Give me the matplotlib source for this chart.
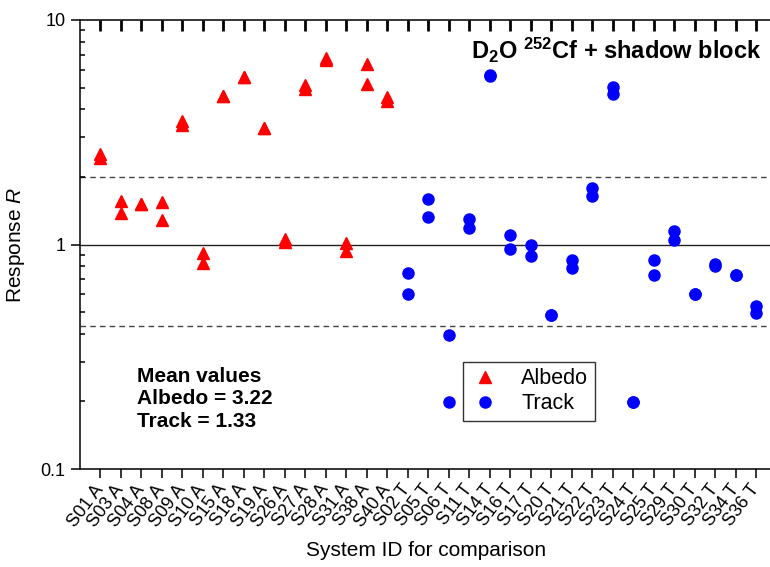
import numpy as np
import matplotlib
matplotlib.use("Agg")
import matplotlib.pyplot as plt

plt.rcParams['font.family'] = ['Liberation Sans', 'DejaVu Sans']
plt.rcParams['mathtext.fontset'] = 'custom'
plt.rcParams['mathtext.rm'] = 'Liberation Sans'
plt.rcParams['mathtext.it'] = 'Liberation Sans:italic'
plt.rcParams['mathtext.bf'] = 'Liberation Sans:bold'

# categories (albedo systems then track systems)
albedo_ids = ["S01 A", "S03 A", "S04 A", "S08 A", "S09 A", "S10 A", "S15 A", "S18 A",
              "S19 A", "S26 A", "S27 A", "S28 A", "S31 A", "S38 A", "S40 A"]
track_ids = ["S02 T", "S05 T", "S06 T", "S11 T", "S14 T", "S16 T", "S17 T", "S20 T",
             "S21 T", "S22 T", "S23 T", "S24 T", "S25 T", "S29 T", "S30 T", "S32 T",
             "S34 T", "S36 T"]

# two readings per system (duplicate when only one is visible)
albedo_r1 = [2.52, 1.57, 1.52, 1.55, 3.54, 0.92, 4.58, 5.56, 3.31, 1.06, 5.11, 6.79, 1.02, 6.34, 4.53]
albedo_r2 = [2.43, 1.38, 1.52, 1.29, 3.39, 0.83, 4.58, 5.56, 3.31, 1.03, 4.94, 6.65, 0.94, 5.20, 4.34]
track_r1 = [0.745, 1.59, 0.397, 1.30, 5.70, 1.10, 1.00, 0.483, 0.855, 1.79, 5.02, 0.198,
            0.849, 1.146, 0.599, 0.820, 0.728, 0.531]
track_r2 = [0.599, 1.33, 0.198, 1.19, 5.62, 0.957, 0.893, 0.483, 0.787, 1.64, 4.66, 0.198,
            0.728, 1.05, 0.599, 0.806, 0.728, 0.496]

upper_band = 2.0
lower_band = 0.435

labels = albedo_ids + track_ids
xa = np.arange(len(albedo_ids))
xt = np.arange(len(track_ids)) + len(albedo_ids)
xpos = np.arange(len(labels))

fig = plt.figure(figsize=(7.7, 5.67), dpi=100)
ax = fig.add_axes([80 / 770, 98 / 567, 692 / 770, 449 / 567])

ax.axhline(1.0, color='#222222', lw=1.0, zorder=1)
ax.axhline(upper_band, color='#444444', lw=1.0, ls=(0, (4, 3)), zorder=1)
ax.axhline(lower_band, color='#444444', lw=1.0, ls=(0, (4, 3)), zorder=1)

ax.plot(xa, albedo_r1, ls='none', marker='^', ms=9, color='#ff0000', mec='#ff0000', label='Albedo', zorder=3)
ax.plot(xa, albedo_r2, ls='none', marker='^', ms=9, color='#ff0000', mec='#ff0000', zorder=3)
ax.plot(xt, track_r1, ls='none', marker='o', ms=8, color='#0000ff', mec='#0000ff', label='Track', zorder=3)
ax.plot(xt, track_r2, ls='none', marker='o', ms=8, color='#0000ff', mec='#0000ff', zorder=3)

ax.set_yscale('log')
ax.set_ylim(0.1, 10)
ax.set_xlim(-0.976, 32.78)
ax.set_yticks([0.1, 1, 10])
ax.set_yticklabels(['0.1', '1', '10'])
ax.set_xticks(xpos)
ax.set_xticklabels(labels, rotation=53, ha='right', va='center', rotation_mode='anchor')

for s in ax.spines.values():
    s.set_linewidth(1.1)
ax.spines['right'].set_visible(False)

ax.tick_params(axis='y', which='major', direction='out', length=6.5, width=1.1, labelsize=13, pad=4)
ax.tick_params(axis='y', which='minor', direction='in', length=3.5, width=1.1, labelleft=False)
ax.tick_params(axis='x', which='major', direction='out', length=6.5, width=1.1, labelsize=13, pad=6)
ax.minorticks_on()
ax.xaxis.set_minor_locator(matplotlib.ticker.NullLocator())

# inward ticks along the top edge
ax.vlines(xpos, 1 - 11 / 449, 1, transform=ax.get_xaxis_transform(), colors='black',
          lw=2.0, clip_on=False, zorder=4)

ax.set_xlabel('System ID for comparison', fontsize=15, labelpad=8)
ax.set_ylabel(r'Response $R$', fontsize=15, labelpad=10)

ax.text(0.9855, 0.9125, r'D$_\mathbf{2}$O $^\mathbf{252}$Cf + shadow block', transform=ax.transAxes,
        ha='right', va='baseline', fontsize=17, fontweight='bold')
ax.text(0.082, 0.228, 'Mean values\nAlbedo = 3.22\nTrack = 1.33', transform=ax.transAxes,
        ha='left', va='top', fontsize=15, fontweight='bold', linespacing=1.25)

leg = ax.legend(loc='upper left', bbox_to_anchor=(0.5535, 0.239), borderaxespad=0,
                fontsize=15.5, fancybox=False, edgecolor='#333333', framealpha=1,
                handlelength=1.4, handletextpad=1.0, borderpad=0.3, labelspacing=0.2)
leg.get_frame().set_linewidth(1.0)

fig.savefig('out.png', dpi=100)
